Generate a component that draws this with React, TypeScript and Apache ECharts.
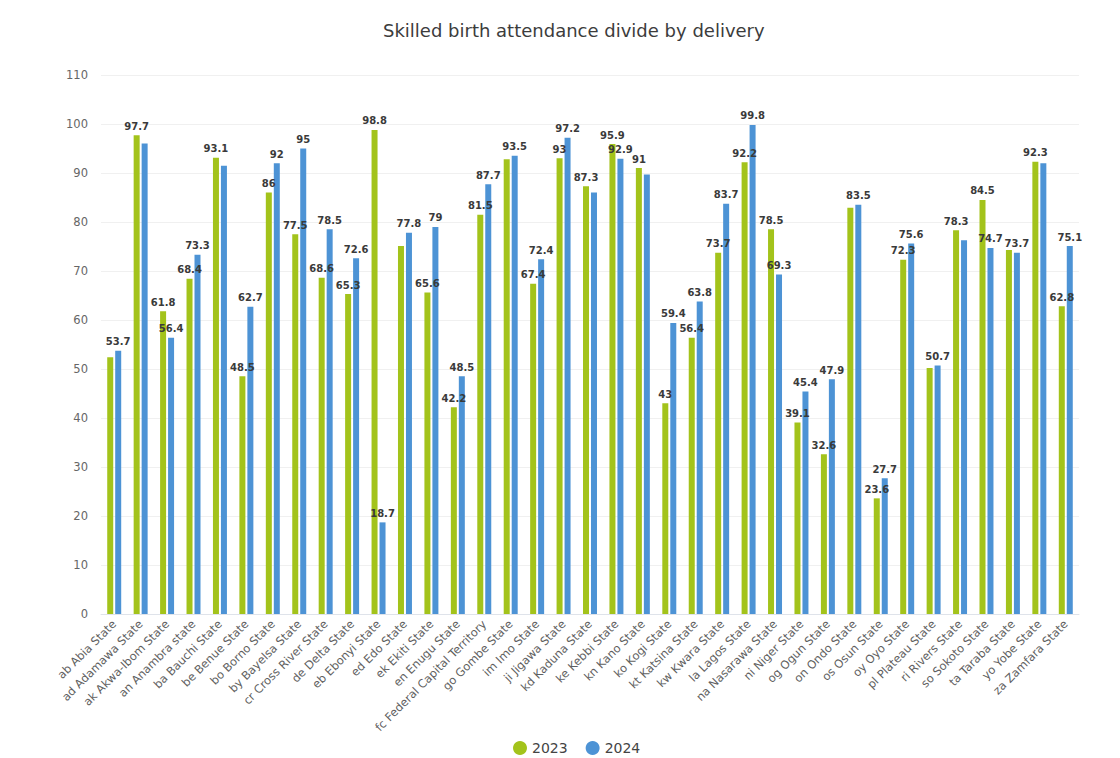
import React, { useEffect, useRef } from "react";
import * as echarts from "echarts";

const states = [
  "ab Abia State", "ad Adamawa State", "ak Akwa-Ibom State", "an Anambra state",
  "ba Bauchi State", "be Benue State", "bo Borno State", "by Bayelsa State",
  "cr Cross River State", "de Delta State", "eb Ebonyi State", "ed Edo State",
  "ek Ekiti State", "en Enugu State", "fc Federal Capital Territory", "go Gombe State",
  "im Imo State", "ji Jigawa State", "kd Kaduna State", "ke Kebbi State",
  "kn Kano State", "ko Kogi State", "kt Katsina State", "kw Kwara State",
  "la Lagos State", "na Nasarawa State", "ni Niger State", "og Ogun State",
  "on Ondo State", "os Osun State", "oy Oyo State", "pl Plateau State",
  "ri Rivers State", "so Sokoto State", "ta Taraba State", "yo Yobe State",
  "za Zamfara State",
];

const values2023 = [
  52.4, 97.7, 61.8, 68.4, 93.1, 48.5, 86, 77.5, 68.6, 65.3, 98.8, 75.1,
  65.6, 42.2, 81.5, 92.8, 67.4, 93, 87.3, 95.9, 91, 43, 56.4, 73.7,
  92.2, 78.5, 39.1, 32.6, 82.9, 23.6, 72.3, 50.2, 78.3, 84.5, 74.3, 92.3,
  62.8,
];

const values2024 = [
  53.7, 96.0, 56.4, 73.3, 91.5, 62.7, 92, 95, 78.5, 72.6, 18.7, 77.8,
  79, 48.5, 87.7, 93.5, 72.4, 97.2, 86.0, 92.9, 89.7, 59.4, 63.8, 83.7,
  99.8, 69.3, 45.4, 47.9, 83.5, 27.7, 75.6, 50.7, 76.3, 74.7, 73.7, 92.0,
  75.1,
];

const yTicks = ["0", "10", "20", "30", "40", "50", "60", "70", "80", "90", "100", "110"];

// Labels that sit under a neighbouring label are left off.
const hiddenLabels2023 = [0, 11, 15, 28, 31, 34];
const hiddenLabels2024 = [1, 4, 18, 20, 32, 35];

const FONT = "DejaVu Sans, Verdana, sans-serif";

function withLabels(values: number[], hidden: number[]) {
  return values.map((v, i) =>
    hidden.includes(i) ? { value: v, label: { show: false } } : v
  );
}

export default function App() {
  const ref = useRef<HTMLDivElement>(null);

  useEffect(() => {
    if (!ref.current) return;
    const chart = echarts.init(ref.current, undefined, { renderer: "svg" });
    const labelStyle = {
      show: true,
      position: "top" as const,
      distance: 4,
      fontFamily: FONT,
      fontSize: 10,
      fontWeight: "bold" as const,
      color: "#3a3a3a",
    };
    chart.setOption({
      animation: false,
      backgroundColor: "#ffffff",
      textStyle: { fontFamily: FONT },
      title: {
        text: "Skilled birth attendance divide by delivery",
        left: 378,
        top: 16,
        textStyle: { fontFamily: FONT, fontSize: 18, fontWeight: "normal", color: "#3c3c3c" },
      },
      legend: {
        bottom: 3,
        left: 513,
        padding: 0,
        icon: "circle",
        itemWidth: 14,
        itemHeight: 14,
        itemGap: 18,
        textStyle: { fontFamily: FONT, fontSize: 14, color: "#444" },
        data: ["2023", "2024"],
      },
      grid: { left: 101, right: 41, top: 75, bottom: 144 },
      xAxis: {
        type: "category",
        data: states,
        axisTick: { show: false },
        axisLine: { lineStyle: { color: "#dfe3ea" } },
        axisLabel: {
          interval: 0,
          rotate: 45,
          fontFamily: FONT,
          fontSize: 11.5,
          color: "#5f5f5f",
          margin: 8,
        },
      },
      yAxis: {
        type: "value",
        min: 0,
        max: 110,
        interval: 10,
        axisLabel: {
          fontFamily: FONT,
          fontSize: 11.5,
          color: "#666",
          margin: 13,
          formatter: (v: number) => yTicks[Math.round(v / 10)] ?? String(v),
        },
        splitLine: { lineStyle: { color: "#f0f0f0" } },
        axisLine: { show: false },
        axisTick: { show: false },
      },
      series: [
        {
          name: "2023",
          type: "bar",
          data: withLabels(values2023, hiddenLabels2023),
          barWidth: 6,
          barGap: "33%",
          itemStyle: { color: "#a3c31b" },
          label: labelStyle,
        },
        {
          name: "2024",
          type: "bar",
          data: withLabels(values2024, hiddenLabels2024),
          barWidth: 6,
          itemStyle: { color: "#4d93d5" },
          label: labelStyle,
        },
      ],
    });
    return () => chart.dispose();
  }, []);

  return (
    <div
      ref={ref}
      style={{ position: "absolute", left: 0, top: 0, width: 1120, height: 758 }}
    />
  );
}
